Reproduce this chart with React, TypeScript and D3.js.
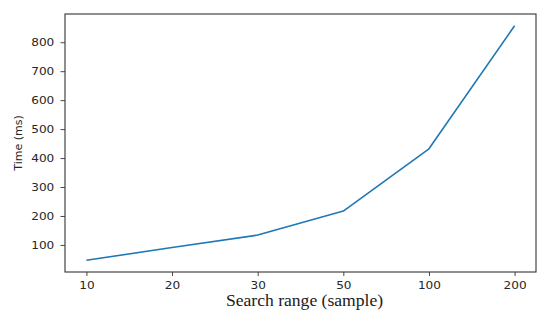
import { useEffect, useRef } from "react";
import * as d3 from "d3";

const ranges = ["10", "20", "30", "50", "100", "200"];
const times = [47, 91, 134, 217, 432, 857];
const yTicks = [100, 200, 300, 400, 500, 600, 700, 800];

const W = 550;
const H = 323;
const MARGIN = { top: 14, right: 14, bottom: 51, left: 65 };
const STRETCH = 1.1; // reference text looks horizontally widened

export default function App() {
  const svgRef = useRef<SVGSVGElement>(null);

  useEffect(() => {
    if (!svgRef.current) return;
    const svg = d3.select(svgRef.current);
    svg.selectAll("*").remove();

    const innerW = W - MARGIN.left - MARGIN.right;
    const innerH = H - MARGIN.top - MARGIN.bottom;

    const g = svg
      .append("g")
      .attr("transform", `translate(${MARGIN.left},${MARGIN.top})`);

    // matplotlib-like 5% padding on index axis
    const n = ranges.length;
    const x = d3
      .scaleLinear()
      .domain([-0.05 * (n - 1), (n - 1) * 1.05])
      .range([0, innerW]);

    const lo = d3.min(times)!;
    const hi = d3.max(times)!;
    const pad = (hi - lo) * 0.05;
    const y = d3
      .scaleLinear()
      .domain([lo - pad, hi + pad])
      .range([innerH, 0]);

    const tickFont = "'DejaVu Sans', sans-serif";

    // x axis
    g.append("g")
      .attr("transform", `translate(0,${innerH})`)
      .call(
        d3
          .axisBottom(x)
          .tickValues(d3.range(n))
          .tickFormat((d) => ranges[d as number])
          .tickSize(4)
          .tickPadding(5)
      )
      .call((ax) => ax.select(".domain").remove())
      .call((ax) => ax.selectAll("line").attr("stroke", "#333").attr("stroke-width", 0.9))
      .call((ax) =>
        ax
          .selectAll("text")
          .attr("fill", "#262626")
          .attr("font-size", 11)
          .attr("font-family", tickFont)
          .attr("transform", `scale(${STRETCH},1)`)
      );

    // y axis
    g.append("g")
      .call(d3.axisLeft(y).tickValues(yTicks).tickSize(4.5).tickPadding(4))
      .call((ax) => ax.select(".domain").remove())
      .call((ax) => ax.selectAll("line").attr("stroke", "#333").attr("stroke-width", 0.9))
      .call((ax) =>
        ax
          .selectAll("text")
          .attr("fill", "#262626")
          .attr("font-size", 11)
          .attr("font-family", tickFont)
          .attr("x", -10.7 / STRETCH)
          .attr("transform", `scale(${STRETCH},1)`)
      );

    // frame
    g.append("rect")
      .attr("x", 0)
      .attr("y", 0)
      .attr("width", innerW)
      .attr("height", innerH)
      .attr("fill", "none")
      .attr("stroke", "#333")
      .attr("stroke-width", 1.1);

    // line
    const line = d3
      .line<number>()
      .x((_, i) => x(i))
      .y((d) => y(d));

    g.append("path")
      .datum(times)
      .attr("d", line)
      .attr("fill", "none")
      .attr("stroke", "#1f77b4")
      .attr("stroke-width", 1.6)
      .attr("stroke-linejoin", "round");

    // axis labels
    g.append("g")
      .attr("transform", `translate(${innerW / 2 + 4},${innerH + 34}) scale(${STRETCH},1)`)
      .append("text")
      .attr("text-anchor", "middle")
      .attr("fill", "#1a1a1a")
      .attr("font-size", 16)
      .attr("font-family", "'Liberation Serif', serif")
      .text("Search range (sample)");

    g.append("text")
      .attr("transform", "rotate(-90)")
      .attr("x", -innerH / 2)
      .attr("y", -43)
      .attr("text-anchor", "middle")
      .attr("fill", "#262626")
      .attr("font-size", 11)
      .attr("font-family", tickFont)
      .text("Time (ms)");
  }, []);

  return (
    <svg
      ref={svgRef}
      width={W}
      height={H}
      style={{ position: "absolute", left: 0, top: 0, background: "#fff" }}
    />
  );
}
